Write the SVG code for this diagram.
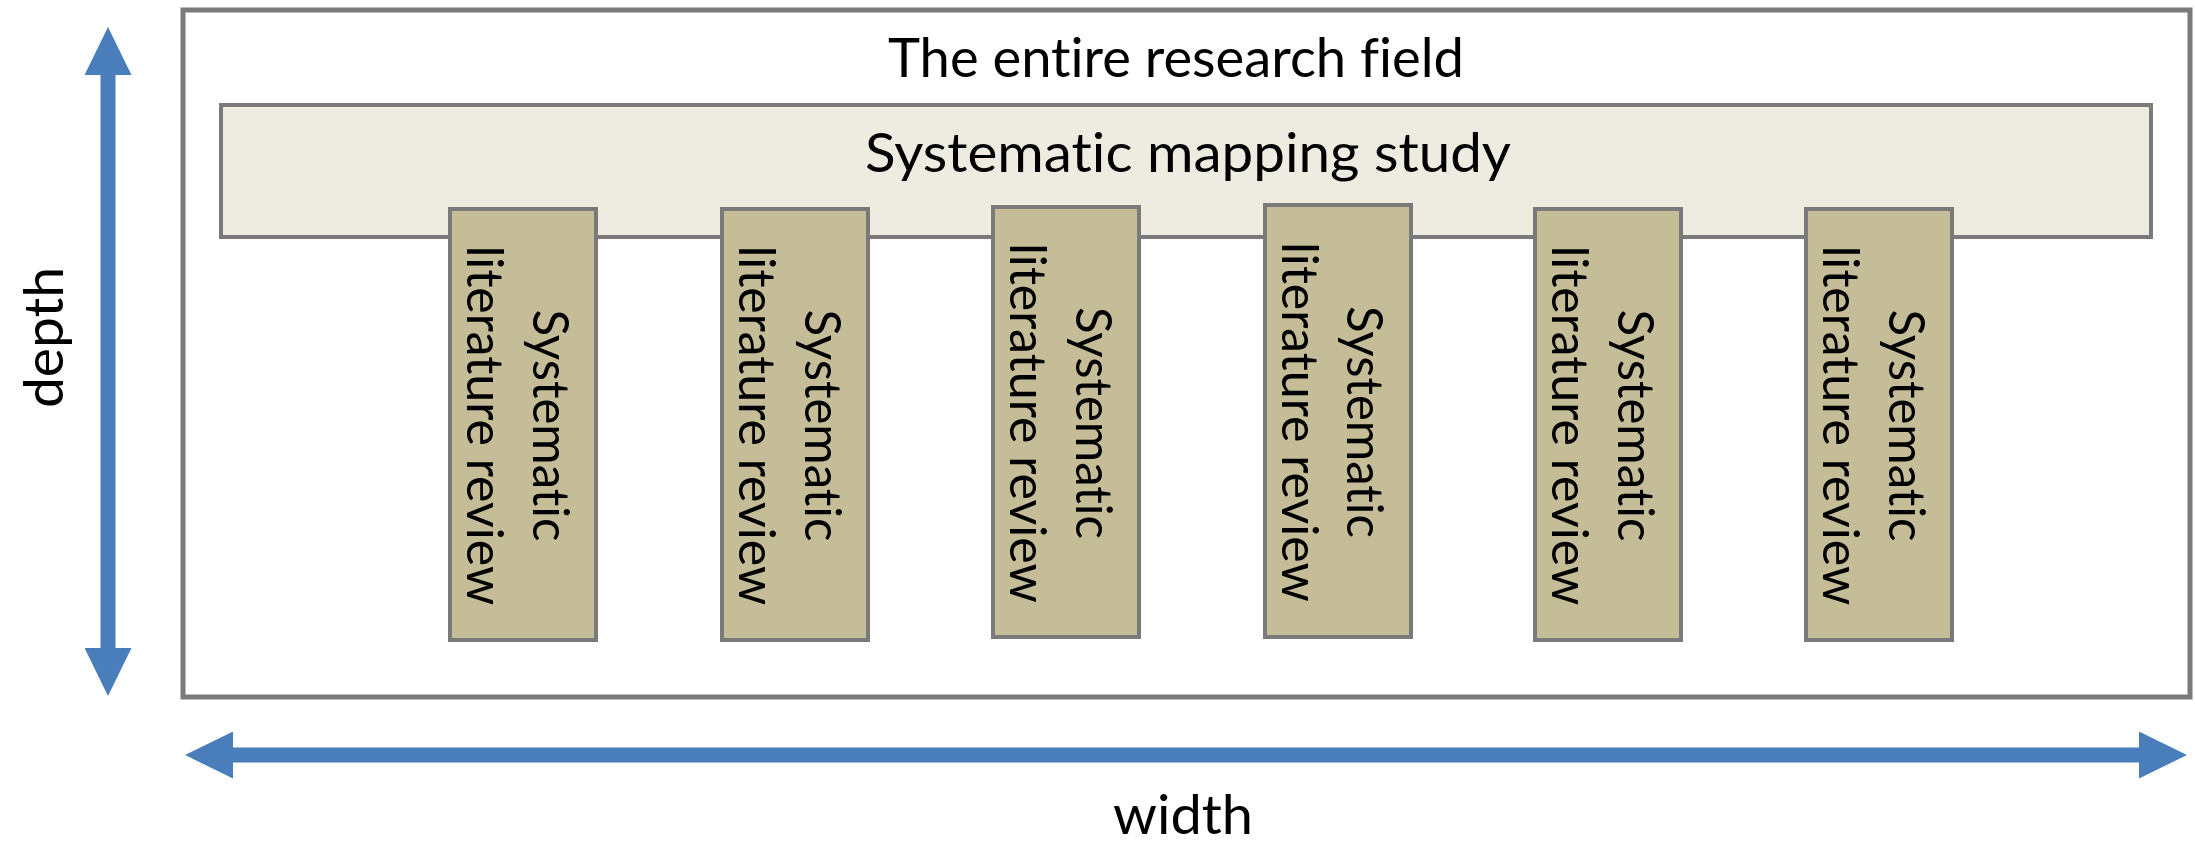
<svg xmlns="http://www.w3.org/2000/svg" width="2195" height="848" viewBox="0 0 2195 848">
  <style>
    .lbl { font-family: Lato, "Open Sans", "Liberation Sans", sans-serif; fill: #000; font-variant-ligatures: none; font-feature-settings: "liga" 0; }
    .big { font-size: 54px; }
    .slr { font-size: 50px; }
    .field { fill: #ffffff; stroke: #7a7a7a; stroke-width: 5; }
    .map { fill: #eeece1; stroke: #7a7a7a; stroke-width: 4; }
    .box { fill: #c4bd97; stroke: #7a7a7a; stroke-width: 4; }
    .axis { stroke: #4a7ebb; stroke-width: 15; fill: none; }
  </style>
  <defs>
    <marker id="head" markerUnits="userSpaceOnUse" viewBox="0 0 48 47" markerWidth="48" markerHeight="47" refX="0" refY="23.5" orient="auto-start-reverse">
      <path d="M0,0 L48,23.5 L0,47 Z" fill="#4a7ebb"/>
    </marker>
  </defs>

  <rect width="2195" height="848" fill="#ffffff"/>

  <g id="research-field">
    <rect class="field" x="183" y="10" width="2007" height="687"/>
    <text class="lbl big" x="1176" y="77" text-anchor="middle" textLength="576" lengthAdjust="spacingAndGlyphs">The entire research field</text>
  </g>

  <g id="mapping-study">
    <rect class="map" x="221" y="105" width="1930" height="132"/>
    <text class="lbl big" x="1188" y="172" text-anchor="middle" textLength="646" lengthAdjust="spacingAndGlyphs">Systematic mapping study</text>
  </g>

  <g id="slr-1">
    <rect class="box" x="450" y="209" width="146" height="431"/>
    <text class="lbl slr" transform="translate(533,425.5) rotate(90)" text-anchor="middle" textLength="232" lengthAdjust="spacingAndGlyphs">Systematic</text>
    <text class="lbl slr" transform="translate(467,425.5) rotate(90)" text-anchor="middle" textLength="360" lengthAdjust="spacingAndGlyphs">literature review</text>
  </g>
  <g id="slr-2">
    <rect class="box" x="722" y="209" width="146" height="431"/>
    <text class="lbl slr" transform="translate(805,425.5) rotate(90)" text-anchor="middle" textLength="232" lengthAdjust="spacingAndGlyphs">Systematic</text>
    <text class="lbl slr" transform="translate(739,425.5) rotate(90)" text-anchor="middle" textLength="360" lengthAdjust="spacingAndGlyphs">literature review</text>
  </g>
  <g id="slr-3">
    <rect class="box" x="993" y="207" width="146" height="430"/>
    <text class="lbl slr" transform="translate(1076,423) rotate(90)" text-anchor="middle" textLength="232" lengthAdjust="spacingAndGlyphs">Systematic</text>
    <text class="lbl slr" transform="translate(1010,423) rotate(90)" text-anchor="middle" textLength="360" lengthAdjust="spacingAndGlyphs">literature review</text>
  </g>
  <g id="slr-4">
    <rect class="box" x="1265" y="205" width="146" height="432"/>
    <text class="lbl slr" transform="translate(1347,422) rotate(90)" text-anchor="middle" textLength="232" lengthAdjust="spacingAndGlyphs">Systematic</text>
    <text class="lbl slr" transform="translate(1282,422) rotate(90)" text-anchor="middle" textLength="360" lengthAdjust="spacingAndGlyphs">literature review</text>
  </g>
  <g id="slr-5">
    <rect class="box" x="1535" y="209" width="146" height="431"/>
    <text class="lbl slr" transform="translate(1618,425.5) rotate(90)" text-anchor="middle" textLength="232" lengthAdjust="spacingAndGlyphs">Systematic</text>
    <text class="lbl slr" transform="translate(1552,425.5) rotate(90)" text-anchor="middle" textLength="360" lengthAdjust="spacingAndGlyphs">literature review</text>
  </g>
  <g id="slr-6">
    <rect class="box" x="1806" y="209" width="146" height="431"/>
    <text class="lbl slr" transform="translate(1889,425.5) rotate(90)" text-anchor="middle" textLength="232" lengthAdjust="spacingAndGlyphs">Systematic</text>
    <text class="lbl slr" transform="translate(1823,425.5) rotate(90)" text-anchor="middle" textLength="360" lengthAdjust="spacingAndGlyphs">literature review</text>
  </g>

  <g id="connectors">
    <line class="axis" x1="108" y1="75" x2="108" y2="648" marker-start="url(#head)" marker-end="url(#head)"/>
    <line class="axis" x1="233" y1="755" x2="2139" y2="755" marker-start="url(#head)" marker-end="url(#head)"/>
  </g>

  <g id="axis-labels">
    <text class="lbl big" transform="translate(63,337.5) rotate(-90)" text-anchor="middle" textLength="141" lengthAdjust="spacingAndGlyphs">depth</text>
    <text class="lbl big" x="1183" y="834" text-anchor="middle" textLength="140" lengthAdjust="spacingAndGlyphs">width</text>
  </g>
</svg>
